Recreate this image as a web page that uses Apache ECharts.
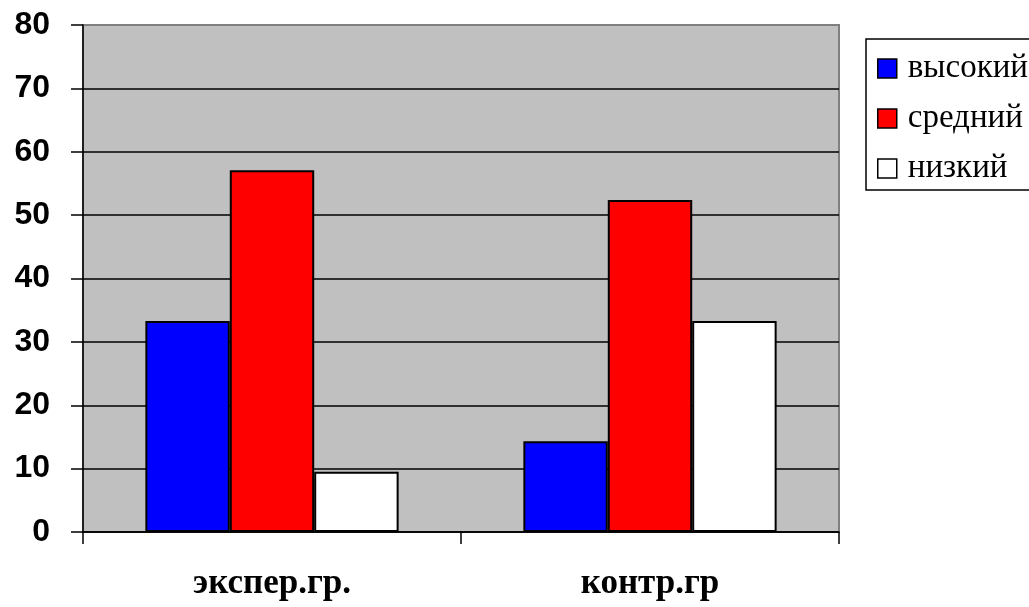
<!DOCTYPE html>
<html>
<head>
<meta charset="utf-8">
<script src="https://cdn.jsdelivr.net/npm/echarts@6/dist/echarts.min.js"></script>
<style>
  html, body { margin: 0; padding: 0; background: #ffffff; }
  #chart { width: 1029px; height: 607px; }
</style>
</head>
<body>
<div id="chart"></div>
<script>
// Groups and the share (%) of each level within a group
const categories = ['экспер.гр.', 'контр.гр'];
const seriesNames = ['высокий', 'средний', 'низкий'];
const highValues = [33.3, 14.3];
const midValues = [57.1, 52.4];
const lowValues = [9.5, 33.3];
const yTicks = [0, 10, 20, 30, 40, 50, 60, 70, 80];

const seriesColors = ['#0000ff', '#ff0000', '#ffffff'];
const seriesData = [highValues, midValues, lowValues];

const chart = echarts.init(document.getElementById('chart'), null, { renderer: 'canvas' });

const option = {
  animation: false,
  backgroundColor: '#ffffff',
  grid: {
    left: 83, right: 190, top: 25, bottom: 75,
    show: true,
    backgroundColor: '#c0c0c0',
    borderColor: '#808080',
    borderWidth: 2
  },
  legend: {
    data: seriesNames,
    orient: 'vertical',
    left: 866,
    top: 39,
    padding: [13, 24, 5, 11],
    itemWidth: 19,
    itemHeight: 19,
    itemGap: 17,
    borderColor: '#000000',
    borderWidth: 1.5,
    backgroundColor: '#ffffff',
    icon: 'rect',
    itemStyle: { borderColor: '#000000', borderWidth: 1.5 },
    textStyle: {
      fontFamily: '"Liberation Serif", "Times New Roman", serif',
      fontSize: 33,
      lineHeight: 33,
      color: '#000000',
      padding: [0, 0, 0, 6]
    }
  },
  xAxis: {
    type: 'category',
    data: categories,
    boundaryGap: true,
    axisLine: { show: true, lineStyle: { color: '#000000', width: 1.5 } },
    axisTick: { show: true, inside: false, length: 12, interval: 0, lineStyle: { color: '#000000', width: 1.5 } },
    axisLabel: {
      margin: 34,
      interval: 0,
      fontFamily: '"Liberation Serif", "Times New Roman", serif',
      fontWeight: 'bold',
      fontSize: 35,
      color: '#000000'
    },
    splitLine: { show: false }
  },
  yAxis: {
    type: 'value',
    min: yTicks[0],
    max: yTicks[yTicks.length - 1],
    interval: yTicks[1] - yTicks[0],
    axisLine: { show: true, lineStyle: { color: '#000000', width: 1.5 } },
    axisTick: { show: true, inside: false, length: 12, lineStyle: { color: '#000000', width: 1.5 } },
    axisLabel: {
      margin: 33,
      fontFamily: '"Liberation Sans", Arial, sans-serif',
      fontWeight: 'bold',
      fontSize: 32,
      color: '#000000'
    },
    splitLine: { show: true, showMaxLine: false, lineStyle: { color: '#000000', width: 1.5 } }
  },
  series: seriesNames.map((name, i) => ({
    name: name,
    type: 'bar',
    data: seriesData[i],
    barGap: '0%',
    barCategoryGap: '33%',
    itemStyle: {
      color: seriesColors[i],
      borderColor: '#000000',
      borderWidth: 2
    }
  }))
};

chart.setOption(option);
</script>
</body>
</html>
